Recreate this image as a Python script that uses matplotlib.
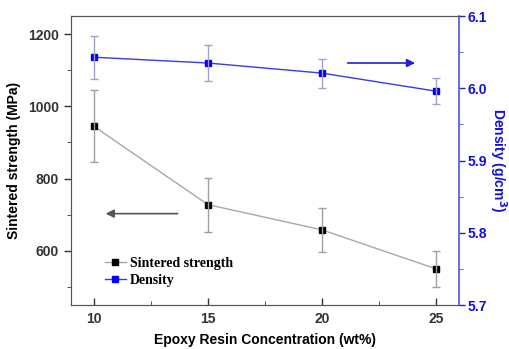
import numpy as np
import matplotlib.pyplot as plt
from matplotlib.ticker import MultipleLocator

# Datos
conc = [10, 15, 20, 25]
strength = [945, 728, 658, 550]
strength_err = [100, 75, 60, 50]
density = [6.043, 6.035, 6.021, 5.996]
density_err = [0.03, 0.025, 0.02, 0.018]

plt.rcParams['font.family'] = ['Liberation Sans', 'DejaVu Sans']
plt.rcParams['font.weight'] = 'bold'

fig = plt.figure(figsize=(5.10, 3.49), dpi=100)
ax = fig.add_axes([0.139, 0.126, 0.761, 0.828])
ax2 = ax.twinx()

# Resistencia
l1, = ax.plot(conc, strength, color='#a8a8a8', lw=1, marker='s', ms=4,
              mfc='black', mec='black', label='Sintered strength')
ax.errorbar(conc, strength, yerr=strength_err, fmt='none', ecolor='#a0a0a0',
            elinewidth=1, capsize=3)

# Densidade
l2, = ax2.plot(conc, density, color='#3a3ae8', lw=1, marker='s', ms=4,
               mfc='#0000ff', mec='#0000ff', label='Density')
ax2.errorbar(conc, density, yerr=density_err, fmt='none', ecolor='#a0a0c8',
             elinewidth=1, capsize=3)

ax.set_xlim(9, 26)
ax.set_ylim(450, 1250)
ax2.set_ylim(5.7, 6.1)

ax.set_xticks([10, 15, 20, 25])
ax.xaxis.set_minor_locator(MultipleLocator(2.5))
ax.set_yticks([600, 800, 1000, 1200])
ax.yaxis.set_minor_locator(MultipleLocator(100))
ax2.set_yticks([5.7, 5.8, 5.9, 6.0, 6.1])
ax2.yaxis.set_minor_locator(MultipleLocator(0.05))

ax.tick_params(axis='x', direction='in', length=5, width=1, labelsize=10, colors='#333333', pad=5)
ax.tick_params(axis='x', which='minor', direction='in', length=3, colors='#333333')
ax.tick_params(axis='y', direction='out', length=5, width=1, labelsize=10, colors='#333333')
ax.tick_params(axis='y', which='minor', direction='out', length=3, colors='#333333')
ax2.tick_params(axis='y', direction='out', length=4, width=1, labelsize=10, colors='#2020d0', pad=2)
ax2.tick_params(axis='y', which='minor', direction='out', length=3, colors='#5050e0')
for lab in ax2.get_yticklabels():
    lab.set_color('#1010e0')

for s in ['left', 'bottom', 'top']:
    ax.spines[s].set_color('#555555')
    ax2.spines[s].set_color('#555555')
ax2.spines['right'].set_color('#5050e0')
ax2.spines['right'].set_linewidth(1.2)
ax.spines['right'].set_visible(False)

ax.set_xlabel('Epoxy Resin Concentration (wt%)', fontsize=10, fontweight='bold', labelpad=5)
ax.set_ylabel('Sintered strength (MPa)', fontsize=10, fontweight='bold', labelpad=5)
ax2.set_ylabel('Density (g/cm$^\\mathbf{3}$)', fontsize=10, fontweight='bold', color='#1010e0',
               rotation=270, labelpad=16)

# Setas
ax.annotate('', xy=(10.4, 703), xytext=(13.8, 703),
            arrowprops=dict(arrowstyle='-|>', color='#555555', lw=1.2, mutation_scale=12))
ax2.annotate('', xy=(24.2, 6.035), xytext=(21.0, 6.035),
             arrowprops=dict(arrowstyle='-|>', color='#2020e0', lw=1.2, mutation_scale=12))

leg = ax.legend([l1, l2], ['Sintered strength', 'Density'], loc='lower left',
                bbox_to_anchor=(0.055, 0.02), frameon=False, handlelength=1.5,
                prop={'family': 'Liberation Serif', 'weight': 'bold', 'size': 10},
                labelspacing=0.3, handletextpad=0.3)

fig.savefig('out.png', dpi=100)
